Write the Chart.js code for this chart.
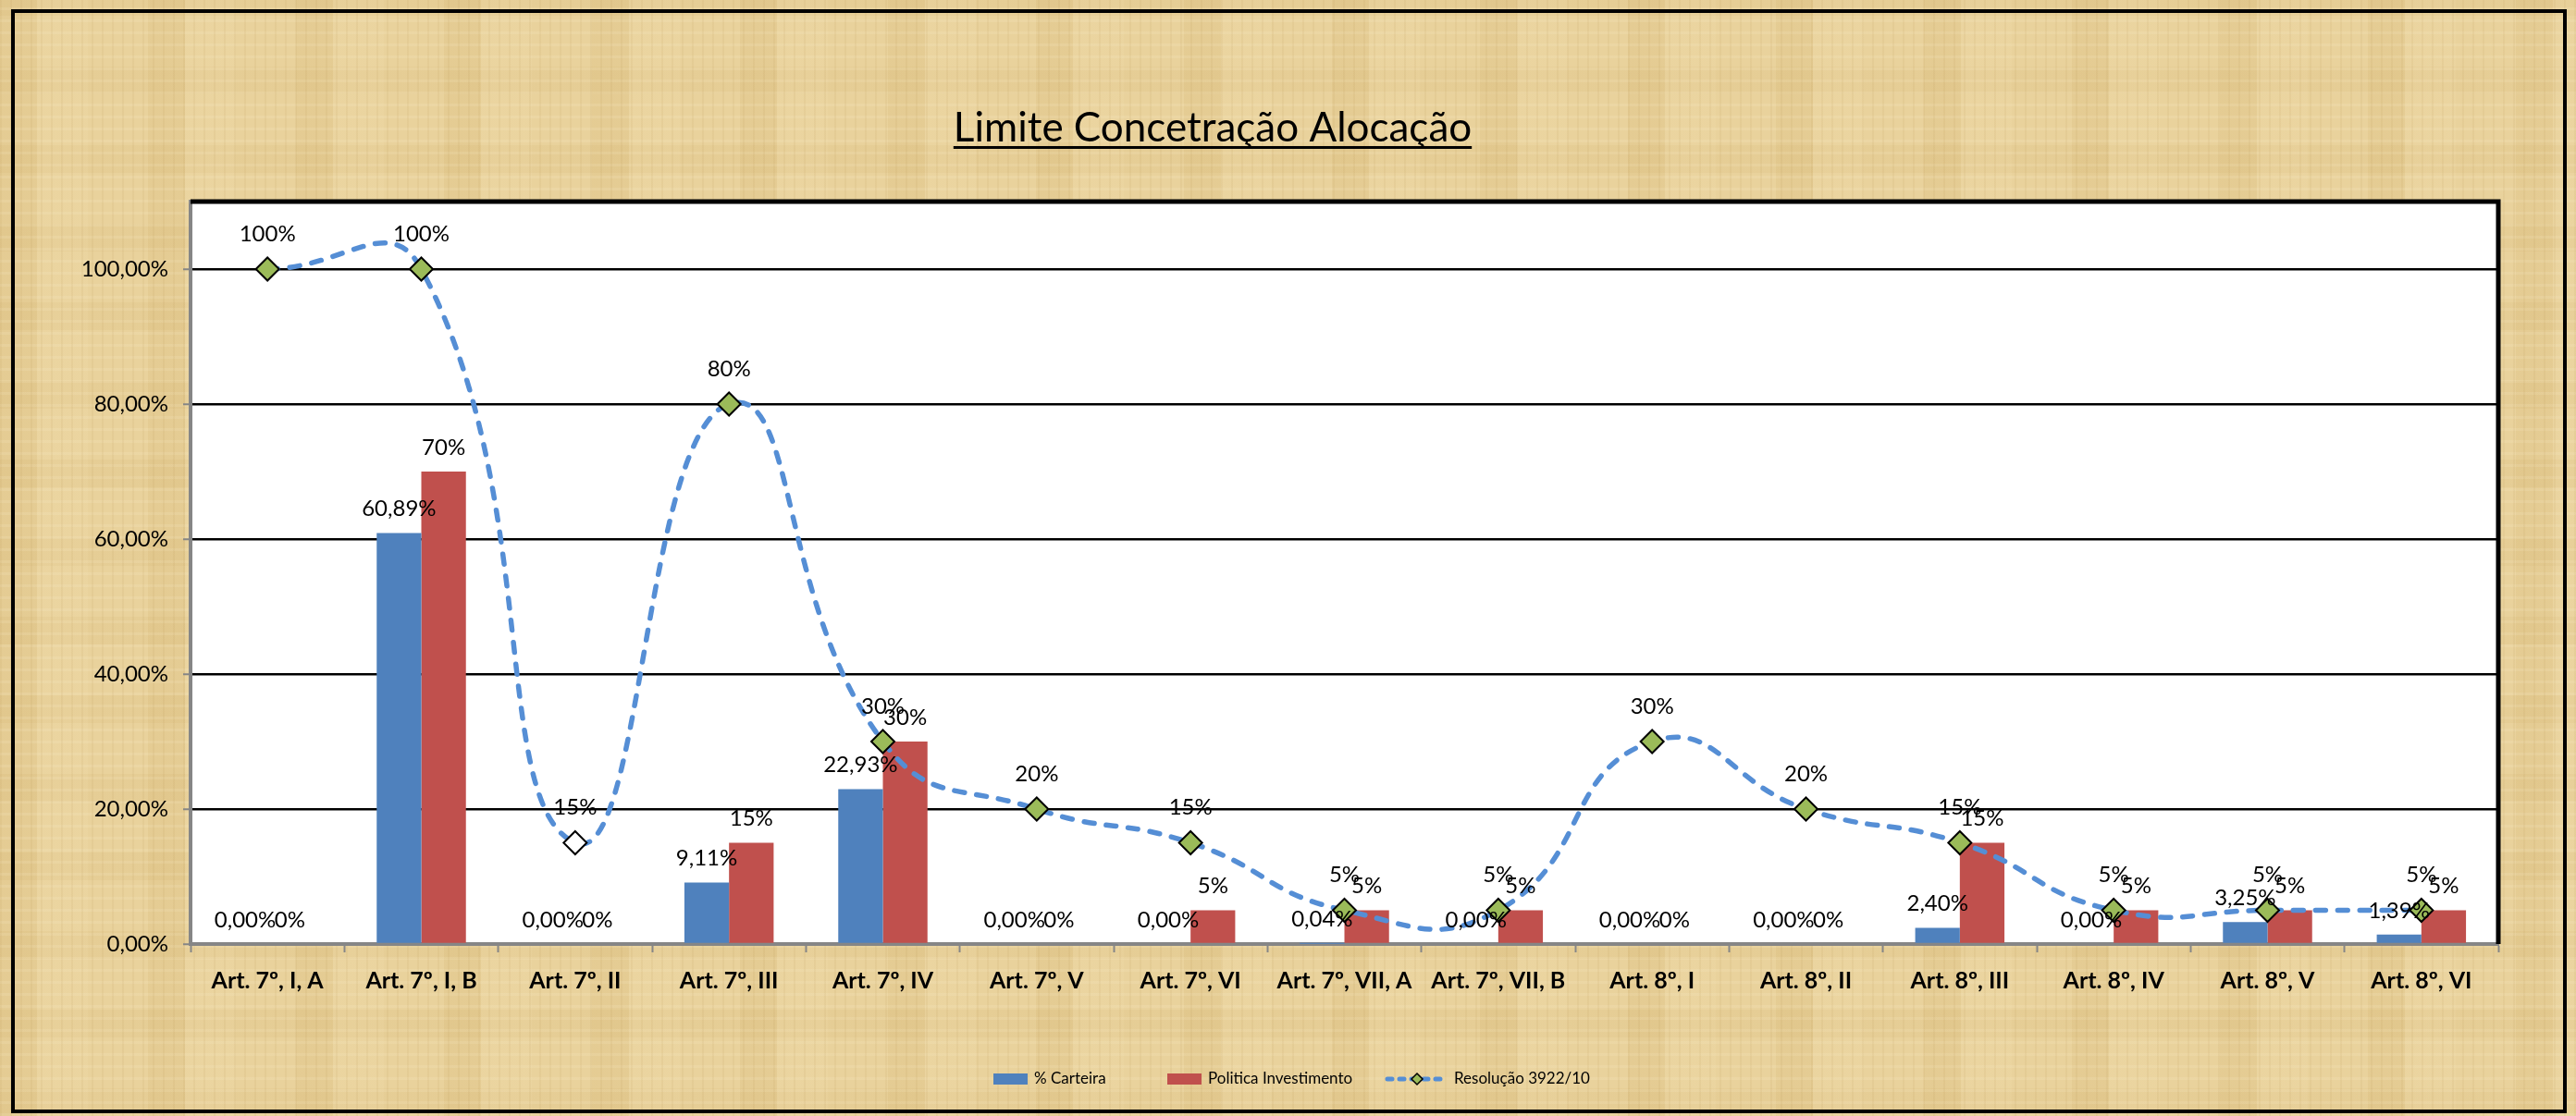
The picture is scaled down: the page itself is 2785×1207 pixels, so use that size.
<!DOCTYPE html>
<html>
<head>
<meta charset="utf-8">
<title>Limite Concetração Alocação</title>
<script src="https://cdn.jsdelivr.net/npm/chart.js@4.4.1/dist/chart.umd.min.js"></script>
<style>
  html, body { margin: 0; padding: 0; }
  body {
    width: 2785px; height: 1207px; overflow: hidden;
    background-color: #e9d29c;
    background-image:
      repeating-linear-gradient(90deg, rgba(160,120,50,0.07) 0 2px, transparent 2px 11px),
      repeating-linear-gradient(0deg, rgba(255,246,220,0.12) 0 3px, transparent 3px 13px),
      repeating-linear-gradient(90deg, rgba(190,150,70,0.10) 0 40px, rgba(255,240,200,0.08) 40px 95px, transparent 95px 160px),
      repeating-linear-gradient(0deg, rgba(190,150,70,0.08) 0 30px, transparent 30px 85px);
  }
  #grafico { display: block; }
</style>
</head>
<body>
<canvas id="grafico" width="2785" height="1207"></canvas>
<script>
var categorias = ["Art. 7º, I, A", "Art. 7º, I, B", "Art. 7º, II", "Art. 7º, III", "Art. 7º, IV",
  "Art. 7º, V", "Art. 7º, VI", "Art. 7º, VII, A", "Art. 7º, VII, B", "Art. 8º, I",
  "Art. 8º, II", "Art. 8º, III", "Art. 8º, IV", "Art. 8º, V", "Art. 8º, VI"];
var carteira = [0, 60.89, 0, 9.11, 22.93, 0, 0, 0.04, 0, 0, 0, 2.40, 0, 3.25, 1.39];
var politica = [0, 70, 0, 15, 30, 0, 5, 5, 5, 0, 0, 15, 5, 5, 5];
var resolucao = [100, 100, 15, 80, 30, 20, 15, 5, 5, 30, 20, 15, 5, 5, 5];
var yTicks = [0, 20, 40, 60, 80, 100];

var FONTE = "Lato, 'Open Sans', sans-serif";
var AZUL = '#4f81bd', VERMELHO = '#c0504d', LINHA = '#558ed5', VERDE = '#9bbb59';

// marcador do Art. 7º, II aparece sem preenchimento
var corMarcador = resolucao.map(function(v, i) { return i == 2 ? '#ffffff' : VERDE; });

function pct2(v) { return v.toFixed(2).replace('.', ',') + '%'; }
function pct0(v) { return v + '%'; }

var fundo = {
  id: 'fundo',
  beforeDraw: function(chart) {
    var ctx = chart.ctx, a = chart.chartArea;
    ctx.save();
    // moldura externa
    ctx.strokeStyle = '#000';
    ctx.lineWidth = 4;
    ctx.strokeRect(14, 12, 2759, 1190);
    // area de plotagem
    ctx.fillStyle = '#ffffff';
    ctx.fillRect(a.left, a.top, a.right - a.left, a.bottom - a.top);
    // titulo sublinhado
    ctx.fillStyle = '#000';
    ctx.font = '44px ' + FONTE;
    ctx.textAlign = 'center';
    ctx.textBaseline = 'alphabetic';
    var t = 'Limite Concetração Alocação';
    ctx.fillText(t, 1311, 153);
    var w = ctx.measureText(t).width;
    ctx.fillRect(1311 - w / 2, 158, w, 3);
    ctx.restore();
  },
  beforeDatasetsDraw: function(chart) {
    var ctx = chart.ctx, a = chart.chartArea;
    ctx.save();
    ctx.strokeStyle = '#000';
    ctx.lineWidth = 5;
    ctx.beginPath();
    ctx.moveTo(a.left, a.top);
    ctx.lineTo(a.right, a.top);
    ctx.lineTo(a.right, a.bottom);
    ctx.stroke();
    ctx.restore();
  }
};

var rotulos = {
  id: 'rotulos',
  afterDatasetsDraw: function(chart) {
    var ctx = chart.ctx;
    ctx.save();
    ctx.fillStyle = '#000';
    ctx.font = '24px ' + FONTE;
    ctx.textAlign = 'center';
    ctx.textBaseline = 'middle';
    [2, 0, 1].forEach(function(di) {
      var ds = chart.data.datasets[di];
      var meta = chart.getDatasetMeta(di);
      meta.data.forEach(function(el, i) {
        var v = ds.data[i];
        var txt = di == 0 ? pct2(v) : pct0(v);
        var dy = di == 2 ? 38 : 26;
        ctx.fillText(txt, el.x, el.y - dy);
      });
    });
    ctx.restore();
  },
  afterDraw: function(chart) {
    // legenda
    var ctx = chart.ctx, y = 1167;
    ctx.save();
    ctx.font = '17px ' + FONTE;
    ctx.textBaseline = 'middle';
    ctx.textAlign = 'left';
    ctx.fillStyle = AZUL;
    ctx.fillRect(1074, y - 6, 37, 12);
    ctx.fillStyle = '#000';
    ctx.fillText('% Carteira', 1118, y);
    ctx.fillStyle = VERMELHO;
    ctx.fillRect(1262, y - 6, 37, 12);
    ctx.fillStyle = '#000';
    ctx.fillText('Politica Investimento', 1306, y);
    ctx.strokeStyle = LINHA;
    ctx.lineWidth = 5;
    ctx.lineCap = 'round';
    ctx.setLineDash([5, 8]);
    ctx.beginPath();
    ctx.moveTo(1500, y);
    ctx.lineTo(1564, y);
    ctx.stroke();
    ctx.setLineDash([]);
    ctx.fillStyle = VERDE;
    ctx.strokeStyle = '#000';
    ctx.lineWidth = 1.5;
    ctx.beginPath();
    ctx.moveTo(1532, y - 6);
    ctx.lineTo(1538, y);
    ctx.lineTo(1532, y + 6);
    ctx.lineTo(1526, y);
    ctx.closePath();
    ctx.fill();
    ctx.stroke();
    ctx.fillStyle = '#000';
    ctx.fillText('Resolução 3922/10', 1572, y);
    ctx.restore();
  }
};

var ctx = document.getElementById('grafico').getContext('2d');
new Chart(ctx, {
  type: 'bar',
  data: {
    labels: categorias,
    datasets: [
      { label: '% Carteira', data: carteira, backgroundColor: AZUL, order: 1,
        categoryPercentage: 0.58, barPercentage: 1 },
      { label: 'Politica Investimento', data: politica, backgroundColor: VERMELHO, order: 1,
        categoryPercentage: 0.58, barPercentage: 1 },
      { type: 'line', label: 'Resolução 3922/10', data: resolucao, order: 0,
        borderColor: LINHA, borderWidth: 5.5, borderDash: [11, 13], borderCapStyle: 'round',
        tension: 0.5, fill: false,
        pointStyle: 'rectRot', pointRadius: 12.5, pointHoverRadius: 12.5,
        pointBackgroundColor: corMarcador, pointBorderColor: '#000', pointBorderWidth: 2 }
    ]
  },
  options: {
    responsive: false,
    animation: false,
    layout: { padding: { top: 218, right: 84, bottom: 0, left: 0 } },
    plugins: {
      legend: { display: false },
      title: { display: false },
      tooltip: { enabled: false }
    },
    scales: {
      x: {
        afterFit: function(scale) { scale.height = 186; },
        grid: { display: true, drawOnChartArea: false, offset: true,
          tickLength: 9, tickColor: '#868686', tickWidth: 2 },
        border: { color: '#868686', width: 4 },
        ticks: { color: '#000', padding: 16, maxRotation: 0, autoSkip: false,
          font: { family: FONTE, size: 25, weight: 'bold' } }
      },
      y: {
        min: 0, max: 110,
        afterFit: function(scale) { scale.width = 206; },
        afterBuildTicks: function(scale) {
          scale.ticks = yTicks.map(function(v) { return { value: v }; });
        },
        grid: { color: '#000', lineWidth: 2.5, tickLength: 8, tickColor: '#868686', tickWidth: 2 },
        border: { color: '#868686', width: 4 },
        ticks: { color: '#000', padding: 16,
          font: { family: FONTE, size: 24 },
          callback: function(v) { return pct2(v); } }
      }
    }
  },
  plugins: [fundo, rotulos]
});
</script>
</body>
</html>
